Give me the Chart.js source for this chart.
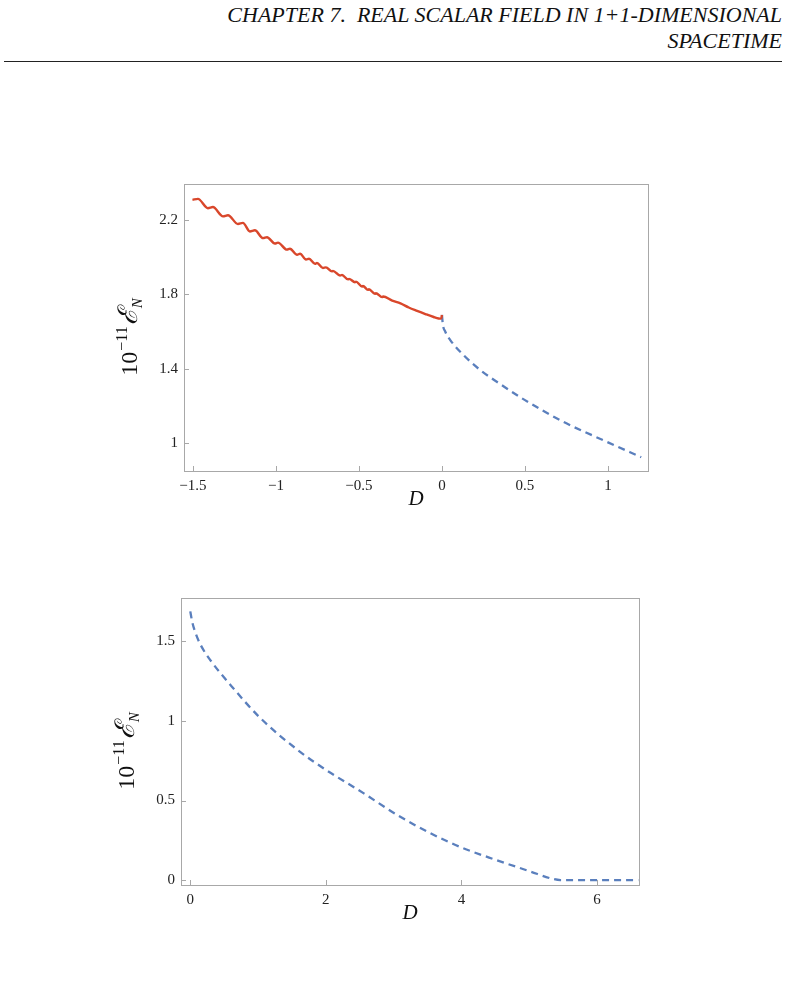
<!DOCTYPE html>
<html>
<head>
<meta charset="utf-8">
<script src="https://cdn.jsdelivr.net/npm/chart.js@4/dist/chart.umd.min.js"></script>
<style>
  body { margin: 0; background: #fff; width: 791px; height: 997px; overflow: hidden; position: relative; }
  .head { position: absolute; right: 9px; font-family: "Liberation Serif", serif; font-style: italic; font-size: 22px; color: #111; white-space: nowrap; }
  .rule { position: absolute; left: 4px; width: 778px; top: 61px; border-top: 1.3px solid #222; }
  .box { position: absolute; }
</style>
</head>
<body>
<div class="head" style="top:2px">CHAPTER 7.&nbsp; REAL SCALAR FIELD IN 1+1-DIMENSIONAL</div>
<div class="head" style="top:28px">SPACETIME</div>
<div class="rule"></div>
<div class="box" style="left:100px;top:169px;width:560px;height:350px"><canvas id="top"></canvas></div>
<div class="box" style="left:100px;top:583px;width:560px;height:350px"><canvas id="bottom"></canvas></div>
<script>
// upper panel, oscillating branch (D < 0)
const redD = [-1.503, -1.470, -1.410, -1.380, -1.319, -1.289, -1.229, -1.199, -1.157, -1.127,
  -1.078, -1.054, -1.006, -0.988, -0.934, -0.916, -0.873, -0.855, -0.819, -0.801,
  -0.765, -0.753, -0.717, -0.699, -0.663, -0.657, -0.614, -0.602, -0.566, -0.560,
  -0.524, -0.518, -0.482, -0.476, -0.446, -0.440, -0.404, -0.398, -0.361, -0.355,
  -0.30, -0.25, -0.20, -0.15, -0.10, -0.05, -0.02, -0.005, 0];
const redE = [2.309, 2.314, 2.264, 2.270, 2.220, 2.226, 2.179, 2.185, 2.139, 2.145,
  2.103, 2.108, 2.074, 2.079, 2.041, 2.046, 2.014, 2.019, 1.988, 1.992,
  1.965, 1.969, 1.942, 1.946, 1.924, 1.927, 1.902, 1.905, 1.881, 1.884,
  1.866, 1.869, 1.843, 1.846, 1.825, 1.828, 1.804, 1.807, 1.786, 1.789,
  1.767, 1.752, 1.730, 1.712, 1.695, 1.679, 1.671, 1.670, 1.690];

// upper panel, dashed branch (D > 0)
const blue1D = [0, 0.005, 0.02, 0.05, 0.13, 0.23, 0.33, 0.5, 0.73, 1.0, 1.2];
const blue1E = [1.69, 1.64, 1.60, 1.555, 1.474, 1.394, 1.331, 1.232, 1.116, 1.005, 0.925];

// lower panel
const blue2D = [0, 0.03, 0.08, 0.15, 0.3, 0.59, 1.03, 1.62, 2.0, 2.56, 3.05, 3.54, 4.0, 4.52, 5.01, 5.36, 5.46, 6.0, 6.61];
const blue2E = [1.689, 1.62, 1.55, 1.48, 1.38, 1.228, 1.02, 0.806, 0.693, 0.545, 0.41, 0.295, 0.205, 0.125, 0.055, 0.006, 0, 0, 0];

const topXTicks = [-1.5, -1, -0.5, 0, 0.5, 1];
const topYTicks = [1, 1.4, 1.8, 2.2];
const botXTicks = [0, 2, 4, 6];
const botYTicks = [0, 0.5, 1, 1.5];

const RED = "#d9472b";
const BLUE = "#5a7fbd";
const FRAME = "#a8a8a8";
const SERIF = "'Liberation Serif', 'DejaVu Serif', serif";

function pts(xs, ys) {
  return xs.map((x, i) => ({ x: x, y: ys[i] }));
}

function fmt(v) {
  return String(v).replace("-", "\u2212");
}

// frame, inward ticks and axis titles
const framePlugin = {
  id: "frame",
  afterDraw(chart) {
    const { ctx, chartArea: a, scales } = chart;
    ctx.save();
    ctx.strokeStyle = FRAME;
    ctx.lineWidth = 1;
    ctx.strokeRect(a.left + 0.5, a.top + 0.5, a.right - a.left, a.bottom - a.top);
    scales.x.ticks.forEach((t) => {
      const px = Math.round(scales.x.getPixelForValue(t.value)) + 0.5;
      ctx.beginPath();
      ctx.moveTo(px, a.bottom);
      ctx.lineTo(px, a.bottom - 5);
      ctx.stroke();
    });
    scales.y.ticks.forEach((t) => {
      const py = Math.round(scales.y.getPixelForValue(t.value)) + 0.5;
      ctx.beginPath();
      ctx.moveTo(a.left, py);
      ctx.lineTo(a.left + 5, py);
      ctx.stroke();
    });

    // x title
    ctx.fillStyle = "#111";
    ctx.font = "italic 21px " + SERIF;
    ctx.textAlign = "center";
    ctx.textBaseline = "alphabetic";
    ctx.fillText("D", (a.left + a.right) / 2, a.bottom + 34);

    // y title: 10^-11 E_N, rotated
    ctx.translate(a.left - 47, (a.top + a.bottom) / 2 + 9);
    ctx.rotate(-Math.PI / 2);
    const parts = [
      { t: "10", f: "24px " + SERIF, dy: 0 },
      { t: "\u221211", f: "16px " + SERIF, dy: -10 },
      { t: "\u2130", f: "italic 27px 'DejaVu Serif', serif", dy: 0 },
      { t: "N", f: "italic 15px " + SERIF, dy: 5 }
    ];
    let w = 0;
    parts.forEach((p) => { ctx.font = p.f; p.w = ctx.measureText(p.t).width; w += p.w + 1; });
    let x = -w / 2;
    ctx.textAlign = "left";
    parts.forEach((p) => {
      ctx.font = p.f;
      ctx.fillText(p.t, x, p.dy);
      x += p.w + 1;
    });
    ctx.restore();
  }
};

function makeChart(id, datasets, xr, yr, xTicks, yTicks, yWidth, pad) {
  return new Chart(document.getElementById(id), {
    type: "line",
    data: { datasets: datasets },
    plugins: [framePlugin],
    options: {
      responsive: true,
      maintainAspectRatio: false,
      animation: false,
      layout: { padding: pad },
      plugins: { legend: { display: false }, tooltip: { enabled: false } },
      elements: { point: { radius: 0 } },
      scales: {
        x: {
          type: "linear",
          min: xr[0],
          max: xr[1],
          afterBuildTicks: (s) => { s.ticks = xTicks.map((v) => ({ value: v })); },
          afterFit: (s) => { s.height = 33; },
          grid: { display: false, drawTicks: false },
          border: { display: false },
          ticks: {
            padding: 6,
            maxRotation: 0,
            autoSkip: false,
            color: "#222",
            font: { family: SERIF, size: 15 },
            callback: (v) => fmt(v)
          }
        },
        y: {
          type: "linear",
          min: yr[0],
          max: yr[1],
          afterBuildTicks: (s) => { s.ticks = yTicks.map((v) => ({ value: v })); },
          afterFit: (s) => { s.width = yWidth; },
          grid: { display: false, drawTicks: false },
          border: { display: false },
          ticks: {
            padding: 6,
            autoSkip: false,
            color: "#222",
            font: { family: SERIF, size: 15 },
            callback: (v) => fmt(v)
          }
        }
      }
    }
  });
}

makeChart("top", [
  {
    data: pts(redD, redE),
    borderColor: RED,
    borderWidth: 2.4,
    cubicInterpolationMode: "monotone",
    fill: false
  },
  {
    data: pts(blue1D, blue1E),
    borderColor: BLUE,
    borderWidth: 2.3,
    borderDash: [7, 5],
    cubicInterpolationMode: "monotone",
    fill: false
  }
], [-1.554, 1.241], [0.851, 2.394], topXTicks, topYTicks, 84, { top: 5, right: 12, left: 0, bottom: 15 });

makeChart("bottom", [
  {
    data: pts(blue2D, blue2E),
    borderColor: BLUE,
    borderWidth: 2.3,
    borderDash: [7, 5],
    cubicInterpolationMode: "monotone",
    fill: false
  }
], [-0.137, 6.62], [-0.031, 1.773], botXTicks, botYTicks, 81, { top: 5, right: 21, left: 0, bottom: 15 });
</script>
</body>
</html>
